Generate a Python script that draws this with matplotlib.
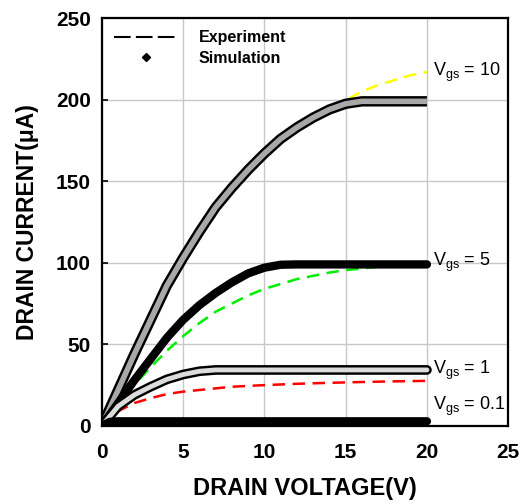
import numpy as np
import matplotlib
matplotlib.use('Agg')
import matplotlib.pyplot as plt
import matplotlib.patheffects as pe

plt.rcParams['font.family'] = ['Liberation Sans', 'DejaVu Sans']

# simulation curves
vd_10 = [0, 1, 2, 3, 4, 5, 6, 7, 8, 9, 10, 11, 12, 13, 14, 15, 16, 17, 18, 19, 20]
sim_10 = [0, 22, 44, 65, 86, 103, 119, 134, 146, 157, 167, 176, 183, 189, 194, 197.5, 199, 199, 199, 199, 199]
vd_5 = [0, 1, 2, 3, 4, 5, 6, 7, 8, 9, 10, 11, 12, 14, 16, 18, 20]
sim_5 = [0, 14, 28, 41, 54, 65, 74, 81.5, 88, 93.5, 97, 98.8, 99, 99, 99, 99, 99]
vd_1 = [0, 0.5, 1, 2, 3, 4, 5, 6, 7, 8, 10, 12, 14, 16, 18, 20]
sim_1 = [0, 6, 12, 19, 24, 28.5, 31.5, 33.5, 34.3, 34.3, 34.3, 34.3, 34.3, 34.3, 34.3, 34.3]
vd_01 = [0, 0.5, 1, 5, 10, 15, 20]
sim_01 = [0, 2.5, 2.8, 2.8, 2.8, 2.8, 2.8]

# experiment curves
exp_10_x = [0, 2, 4, 6, 8, 10, 12, 14, 15, 16, 17, 18, 19, 20]
exp_10 = [0, 44, 86, 119, 146, 167, 183, 194, 199.5, 205, 209, 212, 215, 217]
exp_5_x = [0, 1, 2, 3, 4, 5, 6, 7, 8, 9, 10, 11, 12, 13, 14, 15, 16, 17, 18, 19, 20]
exp_5 = [0, 13, 25, 36, 46, 55, 63, 70, 75, 80, 84, 87, 90, 92, 94, 95.5, 96.5, 97.5, 98.5, 99.5, 100.5]
exp_1_x = [0, 1, 2, 3, 4, 5, 6, 7, 8, 9, 10, 12, 14, 16, 18, 20]
exp_1 = [0, 9, 14, 17, 19.5, 21, 22, 23, 24, 24.5, 25, 25.8, 26.4, 26.9, 27.3, 27.6]

labels = ['V$_{\\mathregular{gs}}$ = 10', 'V$_{\\mathregular{gs}}$ = 5',
          'V$_{\\mathregular{gs}}$ = 1', 'V$_{\\mathregular{gs}}$ = 0.1']
label_y = [217, 100.5, 34, 12]

fig = plt.figure(figsize=(5.25, 5.04), dpi=100)
ax = fig.add_axes([0.194, 0.155, 0.774, 0.809])

dash = (0, (5, 3))
ax.plot(exp_10_x, exp_10, color='#ffff00', ls=dash, lw=1.8)
ax.plot(exp_5_x, exp_5, color='#00ee00', ls=dash, lw=1.8)
ax.plot(exp_1_x, exp_1, color='#ff0000', ls=dash, lw=1.8)

# dense marker bands drawn as stroked lines
ax.plot(vd_10, sim_10, color='#a8a8a8', lw=4, solid_capstyle='butt', solid_joinstyle='round',
        path_effects=[pe.Stroke(linewidth=7.5, foreground='black', joinstyle='round'), pe.Normal()])
ax.plot(vd_5, sim_5, color='black', lw=6, solid_capstyle='round', solid_joinstyle='round')
ax.plot(vd_1, sim_1, color='#dcdcdc', lw=3.5, solid_capstyle='round', solid_joinstyle='round',
        path_effects=[pe.Stroke(linewidth=7, foreground='black', joinstyle='round'), pe.Normal()])
ax.plot(vd_01, sim_01, color='black', lw=6, solid_capstyle='round')

for t, yv in zip(labels, label_y):
    ax.text(20.35, yv, t, fontsize=13, va='center', ha='left')

# legend
ax.plot([], [], color='black', ls=(0, (8, 2.5)), lw=1.5, label='Experiment')
ax.plot([], [], color='black', ls='none', marker='D', ms=4, label='Simulation')
h, l = ax.get_legend_handles_labels()
ax.legend(h[-2:], l[-2:], loc='upper left', frameon=False,
          prop={'weight': 'bold', 'size': 11.5}, handlelength=4.0, handletextpad=1.3,
          borderaxespad=0.35, labelspacing=0.35, bbox_to_anchor=(0.0, 1.0))

ax.set_xlim(0, 25)
ax.set_ylim(0, 250)
ax.set_xticks([0, 5, 10, 15, 20, 25])
ax.set_yticks([0, 50, 100, 150, 200, 250])
ax.grid(True, color='#c8c8c8', lw=1)
ax.set_axisbelow(True)
for s in ax.spines.values():
    s.set_linewidth(1.6)
ax.tick_params(direction='in', length=4, width=1.2, labelsize=15)
ax.tick_params(axis='x', pad=12)
ax.tick_params(axis='y', pad=8)
for t in ax.get_xticklabels() + ax.get_yticklabels():
    t.set_fontweight('bold')

ax.set_xlabel('DRAIN VOLTAGE(V)', fontsize=17, fontweight='bold', labelpad=11)
ax.set_ylabel('DRAIN CURRENT(μA)', fontsize=16.5, fontweight='bold', labelpad=12)

fig.savefig('out.png', dpi=100)
